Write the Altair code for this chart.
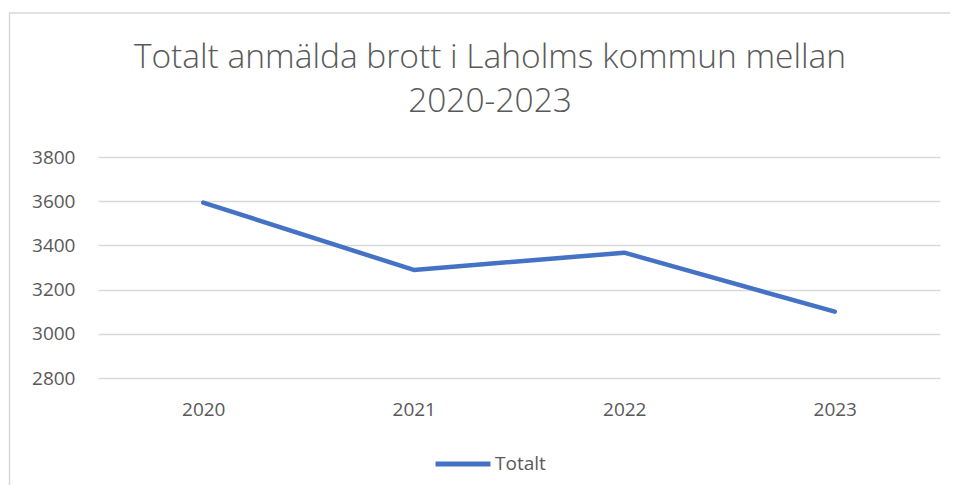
import altair as alt
import pandas as pd

years = ["2020", "2021", "2022", "2023"]
totals = [3594, 3289, 3367, 3100]
series = ["Totalt"] * 4
y_ticks = [2800, 3000, 3200, 3400, 3600, 3800]

df = pd.DataFrame({"År": years, "Antal": totals, "Serie": series})

FONT = "Open Sans"
GREY = "#595959"

line = alt.Chart(df).mark_line(strokeWidth=4.5, strokeCap="round", strokeJoin="round").encode(
    x=alt.X("År:N", sort=years,
            scale=alt.Scale(paddingInner=0, paddingOuter=0),
            axis=alt.Axis(title=None, labelAngle=0, ticks=False, domain=False, grid=False,
                          labelPadding=22, labelFontSize=19, labelColor=GREY, labelFont=FONT)),
    y=alt.Y("Antal:Q",
            scale=alt.Scale(domain=[2800, 3800], nice=False, zero=False),
            axis=alt.Axis(title=None, values=y_ticks, format="d", ticks=False, domain=False,
                          labelPadding=23, labelFontSize=19, labelColor=GREY, labelFont=FONT,
                          gridColor="#d9d9d9", gridWidth=1.5)),
    color=alt.Color("Serie:N", scale=alt.Scale(range=["#4472C4"]),
                    legend=alt.Legend(title=None, orient="none", legendX=335, legendY=277,
                                      symbolType="stroke", symbolSize=3025, symbolStrokeWidth=5,
                                      labelFontSize=19, labelColor=GREY, labelFont=FONT,
                                      labelOffset=2, padding=0)),
)

border = alt.Chart(pd.DataFrame({"a": [0]})).mark_rect(
    fill="transparent", stroke="#d9d9d9", strokeWidth=1.5, clip=False
).encode(
    x=alt.value(-88.5), x2=alt.value(880), y=alt.value(-144), y2=alt.value(360)
)

chart = alt.layer(border, line).properties(
    width=842, height=221,
    autosize=alt.AutoSizeParams(type="none"),
    padding={"left": 90, "top": 149, "right": 10, "bottom": 107},
    title=alt.TitleParams(
        text=["Totalt anmälda brott i Laholms kommun mellan", "2020-2023"],
        anchor="middle", frame="group", dx=-29, dy=107, offset=0, baseline="top",
        fontSize=33.5, font=FONT, fontWeight=300, color=GREY, lineHeight=44,
    ),
).configure_view(stroke=None)

chart.save("out.html", embed_options={"renderer": "svg", "actions": False})
